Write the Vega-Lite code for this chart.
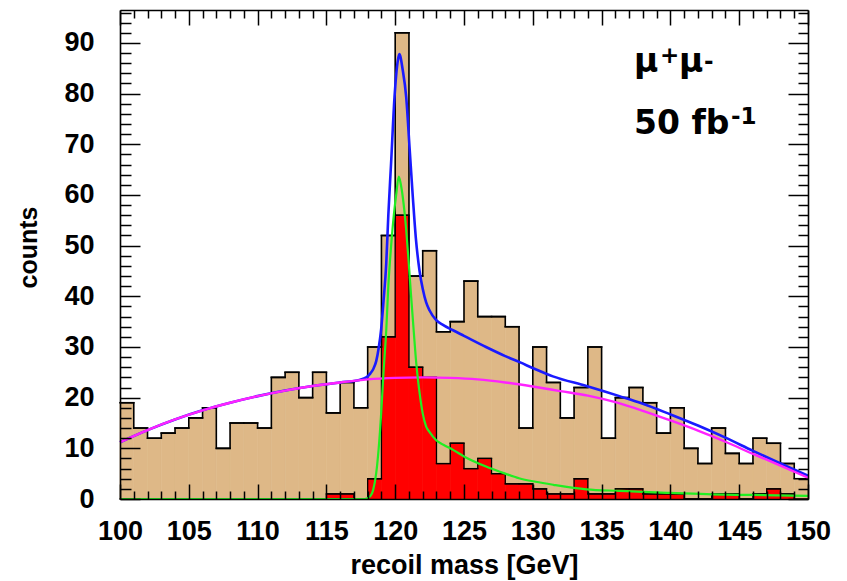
{
  "$schema": "https://vega.github.io/schema/vega-lite/v6.json",
  "width": 688,
  "height": 489,
  "autosize": {"type": "none"},
  "padding": {"left": 120, "top": 10, "right": 39, "bottom": 82},
  "background": "white",
  "config": {"view": {"stroke": null}, "font": "Liberation Sans"},
  "datasets": {
    "bins": [
      {"lo":100,"hi":101,"total":19,"signal":0},{"lo":101,"hi":102,"total":14,"signal":0},
      {"lo":102,"hi":103,"total":12,"signal":0},{"lo":103,"hi":104,"total":13,"signal":0},
      {"lo":104,"hi":105,"total":14,"signal":0},{"lo":105,"hi":106,"total":16,"signal":0},
      {"lo":106,"hi":107,"total":18,"signal":0},{"lo":107,"hi":108,"total":10,"signal":0},
      {"lo":108,"hi":109,"total":15,"signal":0},{"lo":109,"hi":110,"total":15,"signal":0},
      {"lo":110,"hi":111,"total":14,"signal":0},{"lo":111,"hi":112,"total":24,"signal":0},
      {"lo":112,"hi":113,"total":25,"signal":0},{"lo":113,"hi":114,"total":20,"signal":0},
      {"lo":114,"hi":115,"total":25,"signal":0},{"lo":115,"hi":116,"total":17,"signal":1},
      {"lo":116,"hi":117,"total":23,"signal":1},{"lo":117,"hi":118,"total":18,"signal":0},
      {"lo":118,"hi":119,"total":30,"signal":4},{"lo":119,"hi":120,"total":52,"signal":32},
      {"lo":120,"hi":121,"total":92,"signal":56},{"lo":121,"hi":122,"total":44,"signal":26},
      {"lo":122,"hi":123,"total":49,"signal":24},{"lo":123,"hi":124,"total":33,"signal":7},
      {"lo":124,"hi":125,"total":35,"signal":11},{"lo":125,"hi":126,"total":43,"signal":6},
      {"lo":126,"hi":127,"total":36,"signal":8},{"lo":127,"hi":128,"total":36,"signal":5},
      {"lo":128,"hi":129,"total":34,"signal":3},{"lo":129,"hi":130,"total":14,"signal":3},
      {"lo":130,"hi":131,"total":30,"signal":2},{"lo":131,"hi":132,"total":23,"signal":1},
      {"lo":132,"hi":133,"total":16,"signal":1},{"lo":133,"hi":134,"total":22,"signal":4},
      {"lo":134,"hi":135,"total":30,"signal":1},{"lo":135,"hi":136,"total":12,"signal":1},
      {"lo":136,"hi":137,"total":20,"signal":2},{"lo":137,"hi":138,"total":22,"signal":2},
      {"lo":138,"hi":139,"total":19,"signal":1},{"lo":139,"hi":140,"total":13,"signal":1},
      {"lo":140,"hi":141,"total":18,"signal":1},{"lo":141,"hi":142,"total":10,"signal":0},
      {"lo":142,"hi":143,"total":7,"signal":0},{"lo":143,"hi":144,"total":14,"signal":1},
      {"lo":144,"hi":145,"total":9,"signal":1},{"lo":145,"hi":146,"total":7,"signal":0},
      {"lo":146,"hi":147,"total":12,"signal":1},{"lo":147,"hi":148,"total":11,"signal":2},
      {"lo":148,"hi":149,"total":7,"signal":1},{"lo":149,"hi":150,"total":4,"signal":0}
    ],
    "bkg": [
      {"mass":100,"counts":11.2},{"mass":102,"counts":13.6},{"mass":104,"counts":15.7},
      {"mass":106,"counts":17.5},{"mass":108,"counts":19.0},{"mass":110,"counts":20.3},
      {"mass":112,"counts":21.4},{"mass":114,"counts":22.3},{"mass":116,"counts":23.0},
      {"mass":118,"counts":23.6},{"mass":120,"counts":23.9},{"mass":122,"counts":24.0},
      {"mass":124,"counts":23.9},{"mass":126,"counts":23.6},{"mass":128,"counts":23.0},
      {"mass":130,"counts":22.2},{"mass":132,"counts":21.3},{"mass":134,"counts":20.4},
      {"mass":136,"counts":19.1},{"mass":138,"counts":17.4},{"mass":140,"counts":15.5},
      {"mass":142,"counts":13.5},{"mass":144,"counts":11.3},{"mass":146,"counts":8.9},
      {"mass":148,"counts":6.6},{"mass":150,"counts":4.2}
    ],
    "sig": [
      {"mass":100,"counts":0},{"mass":117.8,"counts":0},{"mass":118.2,"counts":0.6},
      {"mass":118.4,"counts":1.8},{"mass":118.62,"counts":5.1},{"mass":118.8,"counts":10},
      {"mass":118.98,"counts":16.9},{"mass":119.15,"counts":25},{"mass":119.35,"counts":33.3},
      {"mass":119.5,"counts":42},{"mass":119.7,"counts":49.8},{"mass":119.9,"counts":56},
      {"mass":120.07,"counts":60},{"mass":120.26,"counts":63.6},{"mass":120.4,"counts":62.2},
      {"mass":120.55,"counts":59.6},{"mass":120.8,"counts":53.1},{"mass":121.0,"counts":46},
      {"mass":121.16,"counts":39.9},{"mass":121.35,"counts":33},{"mass":121.53,"counts":26.8},
      {"mass":121.77,"counts":21.0},{"mass":122.0,"counts":16.9},{"mass":122.25,"counts":14.3},
      {"mass":122.5,"counts":13.2},{"mass":122.98,"counts":11.6},{"mass":123.5,"counts":10.7},
      {"mass":124.2,"counts":9.7},{"mass":125,"counts":8.4},{"mass":126.6,"counts":6.4},
      {"mass":128,"counts":5.0},{"mass":129,"counts":4.1},{"mass":130.2,"counts":3.4},
      {"mass":131.5,"counts":2.8},{"mass":133.9,"counts":1.9},{"mass":136.3,"counts":1.6},
      {"mass":138,"counts":1.4},{"mass":140,"counts":1.2},{"mass":143,"counts":0.9},
      {"mass":146,"counts":0.8},{"mass":150,"counts":0.6}
    ],
    "tot": [
      {"mass":100,"counts":11.2},{"mass":102,"counts":13.6},{"mass":104,"counts":15.7},
      {"mass":106,"counts":17.5},{"mass":108,"counts":19.0},{"mass":110,"counts":20.3},
      {"mass":112,"counts":21.4},{"mass":114,"counts":22.3},{"mass":116,"counts":23.0},
      {"mass":117.4,"counts":23.5},{"mass":117.9,"counts":24.0},{"mass":118.2,"counts":24.8},
      {"mass":118.4,"counts":25.6},{"mass":118.62,"counts":27.2},{"mass":118.8,"counts":29.8},
      {"mass":118.98,"counts":33.5},{"mass":119.15,"counts":39},{"mass":119.35,"counts":46.5},
      {"mass":119.5,"counts":56},{"mass":119.7,"counts":66.2},{"mass":119.95,"counts":79.3},
      {"mass":120.19,"counts":86.5},{"mass":120.3,"counts":87.8},{"mass":120.55,"counts":84.6},
      {"mass":120.8,"counts":79.3},{"mass":121.04,"counts":69.5},{"mass":121.28,"counts":59.6},
      {"mass":121.5,"counts":51.5},{"mass":121.77,"counts":45},{"mass":122.0,"counts":41.5},
      {"mass":122.25,"counts":38.8},{"mass":122.5,"counts":37.2},{"mass":122.98,"counts":35.3},
      {"mass":123.5,"counts":34.3},{"mass":124.2,"counts":33.3},{"mass":125,"counts":32.2},
      {"mass":126.6,"counts":30.0},{"mass":128,"counts":28.2},{"mass":129.04,"counts":27.0},
      {"mass":130.2,"counts":25.6},{"mass":131.46,"counts":24.2},{"mass":133.9,"counts":22.3},
      {"mass":136.3,"counts":20.3},{"mass":138,"counts":18.8},{"mass":140,"counts":16.7},
      {"mass":142,"counts":14.5},{"mass":144,"counts":12.1},{"mass":146,"counts":9.5},
      {"mass":148,"counts":7.0},{"mass":150,"counts":4.6}
    ]
  },
  "resolve": {"axis": {"x": "independent", "y": "independent"}},
  "layer": [
    {
      "data": {"name": "bins"},
      "mark": {"type": "rect", "fill": "#DEB887", "stroke": "#DEB887", "strokeWidth": 0.6},
      "encoding": {
        "x": {"field": "lo", "type": "quantitative",
          "scale": {"domain": [100, 150], "nice": false, "zero": false},
          "axis": {"orient": "bottom", "values": [100,105,110,115,120,125,130,135,140,145,150],
            "ticks": false, "domain": false, "grid": false,
            "labelFont": "Liberation Sans", "labelFontWeight": "bold", "labelFontSize": 27,
            "labelColor": "black", "labelPadding": 19, "labelFlush": false, "labelOverlap": false,
            "title": "recoil mass [GeV]", "titleFont": "Liberation Sans", "titleFontSize": 27,
            "titleFontWeight": "bold", "titleColor": "black", "titleX": 344, "titleY": 74,
            "titleAlign": "center", "titleBaseline": "alphabetic"}},
        "x2": {"field": "hi"},
        "y": {"field": "total", "type": "quantitative",
          "scale": {"domain": [0, 96.5], "nice": false, "zero": false},
          "axis": {"orient": "left", "values": [0,10,20,30,40,50,60,70,80,90],
            "ticks": false, "domain": false, "grid": false,
            "labelFont": "Liberation Sans", "labelFontWeight": "bold", "labelFontSize": 27,
            "labelColor": "black", "labelPadding": 26, "labelFlush": false, "labelOverlap": false,
            "title": "counts", "titleFont": "Liberation Sans", "titleFontSize": 25,
            "titleFontWeight": "bold", "titleColor": "black", "titleAngle": -90,
            "titleX": -84, "titleY": 237, "titleAlign": "center", "titleBaseline": "alphabetic"}},
        "y2": {"datum": 0}
      }
    },
    {
      "data": {"name": "bins"},
      "mark": {"type": "rect", "fill": "#FF0000", "stroke": "#FF0000", "strokeWidth": 0.6},
      "encoding": {
        "x": {"field": "lo", "type": "quantitative",
          "axis": {"orient": "bottom", "values": [100,101,102,103,104,105,106,107,108,109,110,111,112,113,114,115,116,117,118,119,120,121,122,123,124,125,126,127,128,129,130,131,132,133,134,135,136,137,138,139,140,141,142,143,144,145,146,147,148,149,150],
            "labels": false, "title": null, "grid": false, "zindex": 1,
            "domain": true, "domainColor": "black", "domainWidth": 1.6,
            "tickColor": "black", "tickWidth": 1.5,
            "tickSize": {"condition": {"test": "datum.value % 5 === 0", "value": -15}, "value": -8}}},
        "x2": {"field": "hi"},
        "y": {"field": "signal", "type": "quantitative",
          "axis": {"orient": "left", "values": [0,2,4,6,8,10,12,14,16,18,20,22,24,26,28,30,32,34,36,38,40,42,44,46,48,50,52,54,56,58,60,62,64,66,68,70,72,74,76,78,80,82,84,86,88,90,92,94,96],
            "labels": false, "title": null, "grid": false, "zindex": 1,
            "domain": true, "domainColor": "black", "domainWidth": 1.6,
            "tickColor": "black", "tickWidth": 1.5,
            "tickSize": {"condition": {"test": "datum.value % 10 === 0", "value": -20}, "value": -11}}},
        "y2": {"datum": 0}
      }
    },
    {
      "data": {"name": "bins"},
      "mark": {"type": "line", "interpolate": "step-after", "color": "black", "strokeWidth": 1.6, "strokeJoin": "miter"},
      "encoding": {
        "x": {"field": "lo", "type": "quantitative",
          "axis": {"orient": "top", "values": [100,101,102,103,104,105,106,107,108,109,110,111,112,113,114,115,116,117,118,119,120,121,122,123,124,125,126,127,128,129,130,131,132,133,134,135,136,137,138,139,140,141,142,143,144,145,146,147,148,149,150],
            "labels": false, "title": null, "grid": false, "zindex": 1,
            "domain": true, "domainColor": "black", "domainWidth": 1.6,
            "tickColor": "black", "tickWidth": 1.5,
            "tickSize": {"condition": {"test": "datum.value % 5 === 0", "value": -15}, "value": -8}}},
        "y": {"field": "total", "type": "quantitative",
          "axis": {"orient": "right", "values": [0,2,4,6,8,10,12,14,16,18,20,22,24,26,28,30,32,34,36,38,40,42,44,46,48,50,52,54,56,58,60,62,64,66,68,70,72,74,76,78,80,82,84,86,88,90,92,94,96],
            "labels": false, "title": null, "grid": false, "zindex": 1,
            "domain": true, "domainColor": "black", "domainWidth": 1.6,
            "tickColor": "black", "tickWidth": 1.5,
            "tickSize": {"condition": {"test": "datum.value % 10 === 0", "value": -20}, "value": -10}}}
      }
    },
    {
      "data": {"name": "bins"},
      "mark": {"type": "rule", "color": "black", "strokeWidth": 1.6, "strokeCap": "square"},
      "encoding": {
        "x": {"field": "lo", "type": "quantitative", "axis": null},
        "x2": {"field": "hi"},
        "y": {"field": "total", "type": "quantitative", "axis": null}
      }
    },
    {
      "data": {"name": "bins"},
      "mark": {"type": "line", "interpolate": "step-after", "color": "black", "strokeWidth": 1.3, "strokeJoin": "miter"},
      "encoding": {
        "x": {"field": "lo", "type": "quantitative", "axis": null},
        "y": {"field": "signal", "type": "quantitative", "axis": null}
      }
    },
    {
      "data": {"name": "bins"},
      "mark": {"type": "rule", "color": "black", "strokeWidth": 1.3, "strokeCap": "square"},
      "encoding": {
        "x": {"field": "lo", "type": "quantitative", "axis": null},
        "x2": {"field": "hi"},
        "y": {"field": "signal", "type": "quantitative", "axis": null}
      }
    },
    {
      "data": {"name": "tot"},
      "mark": {"type": "line", "color": "#1a1aff", "strokeWidth": 2.6, "interpolate": "monotone"},
      "encoding": {
        "x": {"field": "mass", "type": "quantitative", "axis": null},
        "y": {"field": "counts", "type": "quantitative", "axis": null}
      }
    },
    {
      "data": {"name": "bkg"},
      "mark": {"type": "line", "color": "#ff22ff", "strokeWidth": 2.4, "interpolate": "monotone"},
      "encoding": {
        "x": {"field": "mass", "type": "quantitative", "axis": null},
        "y": {"field": "counts", "type": "quantitative", "axis": null}
      }
    },
    {
      "data": {"name": "sig"},
      "mark": {"type": "line", "color": "#22ee22", "strokeWidth": 2.2, "interpolate": "monotone"},
      "encoding": {
        "x": {"field": "mass", "type": "quantitative", "axis": null},
        "y": {"field": "counts", "type": "quantitative", "axis": null}
      }
    },
    {
      "data": {"values": [{}]},
      "mark": {"type": "text", "text": "μ", "font": "DejaVu Sans", "fontWeight": "bold", "fontSize": 33, "align": "left", "baseline": "alphabetic", "color": "black"},
      "encoding": {
        "x": {"datum": 137.36, "type": "quantitative", "axis": null},
        "y": {"datum": 84.3, "type": "quantitative", "axis": null}
      }
    },
    {
      "data": {"values": [{}]},
      "mark": {"type": "text", "text": "+", "font": "DejaVu Sans", "fontWeight": "bold", "fontSize": 23, "align": "left", "baseline": "alphabetic", "color": "black", "dx": 26, "dy": -9},
      "encoding": {
        "x": {"datum": 137.36, "type": "quantitative", "axis": null},
        "y": {"datum": 84.3, "type": "quantitative", "axis": null}
      }
    },
    {
      "data": {"values": [{}]},
      "mark": {"type": "text", "text": "μ", "font": "DejaVu Sans", "fontWeight": "bold", "fontSize": 33, "align": "left", "baseline": "alphabetic", "color": "black", "dx": 45},
      "encoding": {
        "x": {"datum": 137.36, "type": "quantitative", "axis": null},
        "y": {"datum": 84.3, "type": "quantitative", "axis": null}
      }
    },
    {
      "data": {"values": [{}]},
      "mark": {"type": "text", "text": "-", "font": "DejaVu Sans", "fontWeight": "bold", "fontSize": 23, "align": "left", "baseline": "alphabetic", "color": "black", "dx": 70, "dy": -3},
      "encoding": {
        "x": {"datum": 137.36, "type": "quantitative", "axis": null},
        "y": {"datum": 84.3, "type": "quantitative", "axis": null}
      }
    },
    {
      "data": {"values": [{}]},
      "mark": {"type": "text", "text": "50 fb", "font": "DejaVu Sans", "fontWeight": "bold", "fontSize": 33, "align": "left", "baseline": "alphabetic", "color": "black"},
      "encoding": {
        "x": {"datum": 137.36, "type": "quantitative", "axis": null},
        "y": {"datum": 72.0, "type": "quantitative", "axis": null}
      }
    },
    {
      "data": {"values": [{}]},
      "mark": {"type": "text", "text": "-1", "font": "DejaVu Sans", "fontWeight": "bold", "fontSize": 23, "align": "left", "baseline": "alphabetic", "color": "black", "dx": 97, "dy": -10},
      "encoding": {
        "x": {"datum": 137.36, "type": "quantitative", "axis": null},
        "y": {"datum": 72.0, "type": "quantitative", "axis": null}
      }
    }
  ]
}
